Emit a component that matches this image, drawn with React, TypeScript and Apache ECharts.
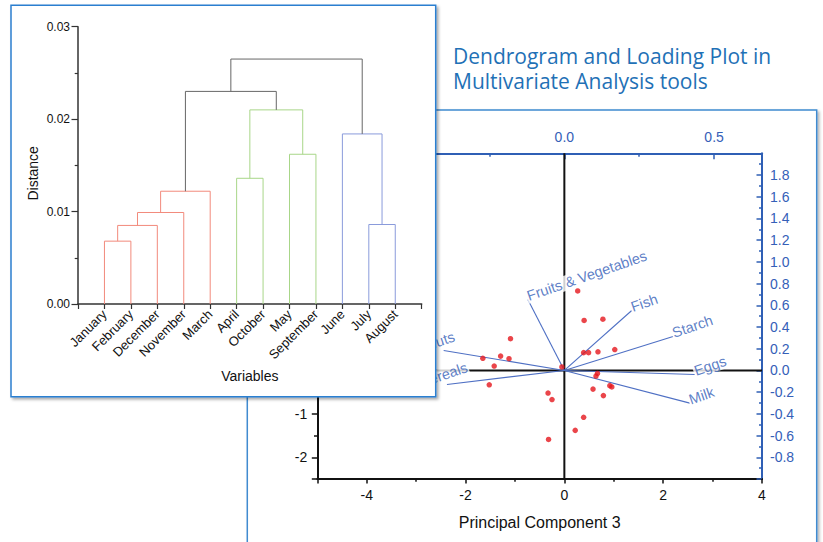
import React, { useEffect, useRef } from 'react';
import * as echarts from 'echarts';

// ---------- Dendrogram data ----------
const leaves = ['January', 'February', 'December', 'November', 'March', 'April', 'October', 'May', 'September', 'June', 'July', 'August'];
// merge k joins node mergeLeft[k] and mergeRight[k]; nodes 0-11 are leaves, node 12+k is merge k
const mergeLeft = [0, 12, 13, 14, 5, 7, 16, 10, 9, 15, 21];
const mergeRight = [1, 2, 3, 4, 6, 8, 17, 11, 19, 18, 20];
const mergeHeight = [0.0068, 0.0085, 0.0099, 0.0122, 0.0136, 0.0162, 0.021, 0.0086, 0.0184, 0.023, 0.0265];
const mergeGroup = ['A', 'A', 'A', 'A', 'B', 'B', 'B', 'C', 'C', 'root', 'root'];

// ---------- Biplot data ----------
const scoresX = [0.27, 0.40, 0.78, -1.09, -1.65, -1.29, -1.12, -1.42, -1.52, -0.05, 0.39, 0.49, 0.68, 1.02, 0.67, 0.64, 0.92, 0.96, 0.58, 0.79, -0.33, -0.25, 0.39, 0.22, -0.32];
const scoresY = [1.83, 1.15, 1.18, 0.73, 0.28, 0.33, 0.27, 0.10, -0.33, 0.08, 0.41, 0.41, 0.43, 0.48, -0.07, -0.13, -0.35, -0.38, -0.43, -0.58, -0.52, -0.67, -1.08, -1.38, -1.59];
const loadingNames = ['Fruits & Vegetables', 'Fish', 'Starch', 'Eggs', 'Milk', 'Nuts', 'Cereals'];
const loadingX = [-0.122, 0.225, 0.363, 0.436, 0.419, -0.403, -0.392];
const loadingY = [0.654, 0.552, 0.313, -0.037, -0.301, 0.184, -0.129];

const pcXRange = [-5, 4];
const pcYRange = [-2.5, 5];
const loadXRange = [-0.825, 0.66];
const loadYRange = [-1, 2];

const titleLines = ['Dendrogram and Loading Plot in', 'Multivariate Analysis tools'];

// ---------- styles ----------
const FONT = "'Liberation Sans', Arial, Helvetica, sans-serif";
const groupColor: Record<string, string> = { A: '#f28a7c', B: '#a8d688', C: '#8a9bdb', root: '#666666' };
const BLUE = '#2f5fb5';
const BLUE_TEXT = '#3560b8';
const DARK = '#333333';
const BLACK = '#111111';

function buildOption() {
  const nodeX: number[] = leaves.map((_, i) => i + 1);
  const nodeH: number[] = leaves.map(() => 0);
  mergeLeft.forEach((l, k) => {
    const r = mergeRight[k];
    nodeX.push((nodeX[l] + nodeX[r]) / 2);
    nodeH.push(mergeHeight[k]);
  });

  const linkSeries = mergeLeft.map((l, k) => {
    const r = mergeRight[k];
    const h = mergeHeight[k];
    return {
      type: 'line',
      name: 'link' + k,
      xAxisIndex: 0,
      yAxisIndex: 0,
      z: 130,
      silent: true,
      showSymbol: false,
      symbol: 'none',
      lineStyle: { color: groupColor[mergeGroup[k]], width: 1 },
      data: [
        [nodeX[l], nodeH[l]],
        [nodeX[l], h],
        [nodeX[r], h],
        [nodeX[r], nodeH[r]],
      ],
    };
  });

  const zeroSeries = [
    {
      type: 'line', name: 'zeroH', xAxisIndex: 1, yAxisIndex: 1, z: 3, silent: true, symbol: 'none',
      lineStyle: { color: BLACK, width: 2 },
      data: [[pcXRange[0], 0], [pcXRange[1], 0]],
    },
    {
      type: 'line', name: 'zeroV', xAxisIndex: 1, yAxisIndex: 1, z: 3, silent: true, symbol: 'none',
      lineStyle: { color: BLACK, width: 2 },
      data: [[0, pcYRange[0]], [0, pcYRange[1]]],
    },
  ];

  const loadingLineSeries = loadingNames.map((n, i) => ({
    type: 'line', name: n, xAxisIndex: 2, yAxisIndex: 2, z: 5, silent: true, symbol: 'none',
    lineStyle: { color: '#4f70c4', width: 1.1 },
    data: [[0, 0], [loadingX[i], loadingY[i]]],
  }));

  const loadingLabelSeries = {
    type: 'scatter', name: 'loadingLabels', xAxisIndex: 2, yAxisIndex: 2, z: 6, silent: true,
    symbolSize: 1,
    itemStyle: { color: 'rgba(0,0,0,0)' },
    data: loadingNames.map((n, i) => {
      const leftward = loadingX[i] < 0 && Math.abs(loadingY[i]) < Math.abs(loadingX[i]);
      return {
        name: n,
        value: [loadingX[i], loadingY[i]],
        label: {
          show: true,
          formatter: '{b}',
          position: [0, 0],
          align: leftward ? 'center' : 'left',
          verticalAlign: 'bottom',
          offset: leftward ? [0, -2] : [0, 5],
          rotate: 19,
          fontSize: 14.5,
          fontFamily: FONT,
          color: BLUE_TEXT,
          backgroundColor: '#ffffff',
          padding: [0, 1, 0, 1],
        },
      };
    }),
  };

  const scoreSeries = {
    type: 'scatter', name: 'Scores', xAxisIndex: 1, yAxisIndex: 1, z: 7, silent: true,
    symbolSize: 5.5,
    itemStyle: { color: '#e5161d' },
    data: scoresX.map((x, i) => [x, scoresY[i]]),
  };

  return {
    animation: false,
    backgroundColor: '#ffffff',
    title: {
      text: titleLines.join('\n'),
      left: 453,
      top: 43.5,
      padding: 0,
      textStyle: { fontFamily: "'Open Sans', 'Noto Sans', sans-serif", fontSize: 21, fontWeight: 'normal', color: '#1f71b6', lineHeight: 25 },
    },
    graphic: [
      {
        type: 'rect', z: -10, silent: true,
        shape: { x: 247.3, y: 110, width: 569.4, height: 460 },
        style: { fill: '#ffffff', stroke: '#3f8bd0', lineWidth: 1.5, shadowBlur: 3, shadowOffsetX: 2, shadowOffsetY: 2, shadowColor: 'rgba(0,0,0,0.3)' },
      },
      {
        type: 'rect', z: 100, silent: true,
        shape: { x: 11, y: 5.3, width: 424.7, height: 391.4 },
        style: { fill: '#ffffff', stroke: '#2b7fd0', lineWidth: 1.5, shadowBlur: 3, shadowOffsetX: 2, shadowOffsetY: 2, shadowColor: 'rgba(0,0,0,0.35)' },
      },
    ],
    grid: [
      { left: 78, top: 26.7, width: 343.7, height: 277.3 },
      { left: 317.3, top: 153.3, width: 444.7, height: 325.7 },
    ],
    xAxis: [
      {
        gridIndex: 0, type: 'value', min: 0, max: leaves.length + 1, interval: 1, z: 120,
        axisLine: { show: true, onZero: false, lineStyle: { color: DARK, width: 1.5 } },
        axisTick: { show: true, length: 5, lineStyle: { color: DARK, width: 1.2 } },
        splitLine: { show: false },
        axisLabel: {
          rotate: 45, margin: 8, fontSize: 13, color: BLACK, fontFamily: FONT,
          formatter: (v: number) => leaves[v - 1] ?? '',
        },
        name: 'Variables', nameLocation: 'middle', nameGap: 64,
        nameTextStyle: { fontSize: 14, color: BLACK, fontFamily: FONT },
      },
      {
        gridIndex: 1, type: 'value', min: pcXRange[0], max: pcXRange[1], splitNumber: 4,
        axisLine: { show: true, onZero: false, lineStyle: { color: BLACK, width: 2 } },
        axisTick: { show: true, length: 4.5, lineStyle: { color: BLACK, width: 1.5 } },
        minorTick: { show: true, splitNumber: 2, length: 2.7, lineStyle: { color: BLACK, width: 1.5 } },
        splitLine: { show: false },
        minorSplitLine: { show: false },
        axisLabel: { showMinLabel: false, margin: 9, fontSize: 14, color: BLACK, fontFamily: FONT },
        name: 'Principal Component 3', nameLocation: 'middle', nameGap: 35,
        nameTextStyle: { fontSize: 16, color: BLACK, fontFamily: FONT },
      },
      {
        gridIndex: 1, type: 'value', position: 'top', min: loadXRange[0], max: loadXRange[1], splitNumber: 3,
        axisLine: { show: true, onZero: false, lineStyle: { color: BLUE, width: 2 } },
        axisTick: { show: true, inside: true, length: 6, lineStyle: { color: BLUE, width: 1.5 } },
        minorTick: { show: true, splitNumber: 2, length: 3.5, lineStyle: { color: BLUE, width: 1.5 } },
        splitLine: { show: false },
        minorSplitLine: { show: false },
        axisLabel: {
          showMinLabel: false, showMaxLabel: false, margin: 9, fontSize: 14, color: BLUE_TEXT, fontFamily: FONT,
          formatter: (v: number) => v.toFixed(1),
        },
      },
    ],
    yAxis: [
      {
        gridIndex: 0, type: 'value', min: 0, max: 0.03, interval: 0.01, z: 120,
        axisLine: { show: true, onZero: false, lineStyle: { color: DARK, width: 1.5 } },
        axisTick: { show: true, length: 6.5, lineStyle: { color: DARK, width: 1.2 } },
        minorTick: { show: true, splitNumber: 2, length: 3.3, lineStyle: { color: DARK, width: 1.2 } },
        splitLine: { show: false },
        minorSplitLine: { show: false },
        axisLabel: { margin: 8, fontSize: 12, color: BLACK, fontFamily: FONT, formatter: (v: number) => v.toFixed(2) },
        name: 'Distance', nameLocation: 'middle', nameGap: 38,
        nameTextStyle: { fontSize: 14, color: BLACK, fontFamily: FONT, padding: [0, 16, 0, 0] },
      },
      {
        gridIndex: 1, type: 'value', min: pcYRange[0], max: pcYRange[1], splitNumber: 8,
        axisLine: { show: true, onZero: false, lineStyle: { color: BLACK, width: 2 } },
        axisTick: { show: true, length: 5.5, lineStyle: { color: BLACK, width: 1.5 } },
        minorTick: { show: true, splitNumber: 2, length: 3.3, lineStyle: { color: BLACK, width: 1.5 } },
        splitLine: { show: false },
        minorSplitLine: { show: false },
        axisLabel: { showMinLabel: false, showMaxLabel: false, margin: 10, fontSize: 14, color: BLACK, fontFamily: FONT },
      },
      {
        gridIndex: 1, type: 'value', position: 'right', min: loadYRange[0], max: loadYRange[1], interval: 0.2,
        axisLine: { show: true, onZero: false, lineStyle: { color: BLUE, width: 2 } },
        axisTick: { show: true, inside: true, length: 5.5, lineStyle: { color: BLUE, width: 1.5 } },
        minorTick: { show: true, splitNumber: 2, length: 3, lineStyle: { color: BLUE, width: 1.5 } },
        splitLine: { show: false },
        minorSplitLine: { show: false },
        axisLabel: {
          showMinLabel: false, showMaxLabel: false, margin: 8, fontSize: 14, color: BLUE_TEXT, fontFamily: FONT,
          formatter: (v: number) => v.toFixed(1),
        },
      },
    ],
    series: [
      ...zeroSeries,
      ...loadingLineSeries,
      loadingLabelSeries,
      scoreSeries,
      ...linkSeries,
    ],
  };
}

export default function App() {
  const ref = useRef<HTMLDivElement>(null);
  useEffect(() => {
    if (!ref.current) return;
    const chart = echarts.init(ref.current, null, { renderer: 'svg' });
    chart.setOption(buildOption() as any);
    return () => chart.dispose();
  }, []);
  return (
    <div
      ref={ref}
      style={{ position: 'absolute', left: 0, top: 0, width: 823, height: 542, background: '#ffffff' }}
    />
  );
}
